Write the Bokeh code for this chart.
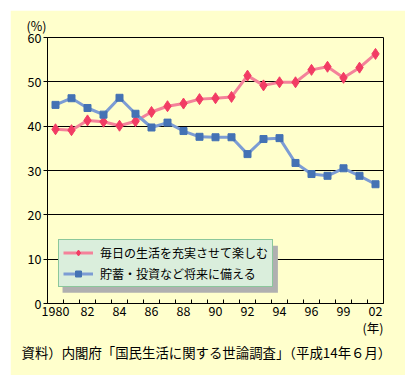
from bokeh.plotting import figure
from bokeh.models import FixedTicker, Legend, LegendItem, Title, BoxAnnotation, Range1d
from bokeh.embed import file_html
from bokeh.resources import INLINE

# ---- data ----
years = ["1980", "81", "82", "83", "84", "85", "86", "87", "88", "89", "90",
         "91", "92", "93", "94", "95", "96", "97", "99", "01", "02"]
enjoy_now = [39.3, 39.1, 41.3, 41.0, 40.1, 41.1, 43.2, 44.5, 45.1, 46.1, 46.3,
             46.6, 51.4, 49.2, 49.9, 49.9, 52.7, 53.4, 50.9, 53.2, 56.3]
save_future = [44.8, 46.3, 44.1, 42.6, 46.4, 42.8, 39.7, 40.8, 38.9, 37.6, 37.5,
               37.5, 33.7, 37.1, 37.3, 31.7, 29.2, 28.8, 30.5, 28.8, 26.9]
labeled_years = ["1980", "82", "84", "86", "88", "90", "92", "94", "96", "99", "02"]
y_ticks = [0, 10, 20, 30, 40, 50, 60]
series_names = ["毎日の生活を充実させて楽しむ", "貯蓄・投資など将来に備える"]
y_unit = "(%)"
x_unit = "(年)"
source_text = "資料）内閣府「国民生活に関する世論調査」（平成14年６月）"

FONT = "Noto Sans CJK JP"
YELLOW = "#FFFFCC"

xs = list(range(len(years)))

p = figure(width=395, height=365, output_backend="svg", toolbar_location=None,
           x_range=Range1d(-0.5, len(years) - 0.5), y_range=Range1d(0, 60),
           min_border_left=37, min_border_right=22, min_border_top=25,
           min_border_bottom=72)
p.margin = (10, 0, 0, 10)
p.background_fill_color = YELLOW
p.border_fill_color = YELLOW
p.outline_line_color = "black"
p.outline_line_width = 1

# x axis
lab_idx = [years.index(y) for y in labeled_years]
p.xaxis.ticker = FixedTicker(ticks=lab_idx,
                             minor_ticks=[i + 0.5 for i in range(len(years) - 1)])
p.xaxis.major_label_overrides = {i: years[i] for i in lab_idx}
p.xaxis.major_tick_in = 0
p.xaxis.major_tick_out = 0
p.xaxis.minor_tick_in = 4
p.xaxis.minor_tick_out = 0
p.xaxis.minor_tick_line_color = "black"
p.xaxis.axis_line_color = "black"
p.xaxis.major_label_standoff = 2
p.xaxis.major_label_text_font = FONT
p.xaxis.major_label_text_font_size = "12.5px"
p.xaxis.major_label_text_color = "black"
p.xgrid.visible = False

# y axis
p.yaxis.ticker = FixedTicker(ticks=y_ticks)
p.yaxis.major_tick_in = 0
p.yaxis.major_tick_out = 4
p.yaxis.major_tick_line_color = "black"
p.yaxis.minor_tick_line_color = None
p.yaxis.axis_line_color = "black"
p.yaxis.major_label_standoff = 2
p.yaxis.major_label_text_font = FONT
p.yaxis.major_label_text_font_size = "12.5px"
p.yaxis.major_label_text_color = "black"
p.ygrid.ticker = FixedTicker(ticks=y_ticks)
p.ygrid.grid_line_color = "black"
p.ygrid.grid_line_width = 1

# series
r1l = p.line(xs, enjoy_now, line_color="#F4829A", line_width=3)
r1m = p.scatter(xs, enjoy_now, marker="diamond", size=11,
                fill_color="#F23C64", line_color="#F23C64")
r2l = p.line(xs, save_future, line_color="#7C9CD4", line_width=3)
r2m = p.scatter(xs, save_future, marker="square", size=7,
                fill_color="#4472B4", line_color="#4472B4")

# legend shadow
shadow = BoxAnnotation(left=0.44, right=13.9, top=13.0, bottom=2.45,
                       fill_color="#B0B0B0", fill_alpha=1.0, line_color=None,
                       level="annotation")
p.add_layout(shadow)

legend = Legend(items=[LegendItem(label=series_names[0], renderers=[r1l, r1m]),
                       LegendItem(label=series_names[1], renderers=[r2l, r2m])],
                location=(11, 16), orientation="vertical",
                padding=4, spacing=4, margin=0,
                glyph_width=30, glyph_height=15, label_height=15,
                label_standoff=7,
                label_text_font=FONT, label_text_font_size="12px",
                label_text_color="black",
                background_fill_color="#DAEEDC", background_fill_alpha=1.0,
                border_line_color="#3CA05A", border_line_width=1.5)
p.add_layout(legend)

# unit labels and source note
p.add_layout(Title(text=y_unit, align="left", offset=-21, standoff=6,
                   text_font=FONT, text_font_size="12.5px",
                   text_font_style="normal", text_color="black"), "above")
p.add_layout(Title(text=x_unit, align="right", offset=0, standoff=-5,
                   text_font=FONT, text_font_size="12.5px",
                   text_font_style="normal", text_color="black"), "below")
p.add_layout(Title(text=source_text, align="left", offset=-26, standoff=11,
                   text_font=FONT, text_font_size="13.4px",
                   text_font_style="normal", text_color="black"), "below")

open("out.html", "w").write(file_html(p, INLINE))
